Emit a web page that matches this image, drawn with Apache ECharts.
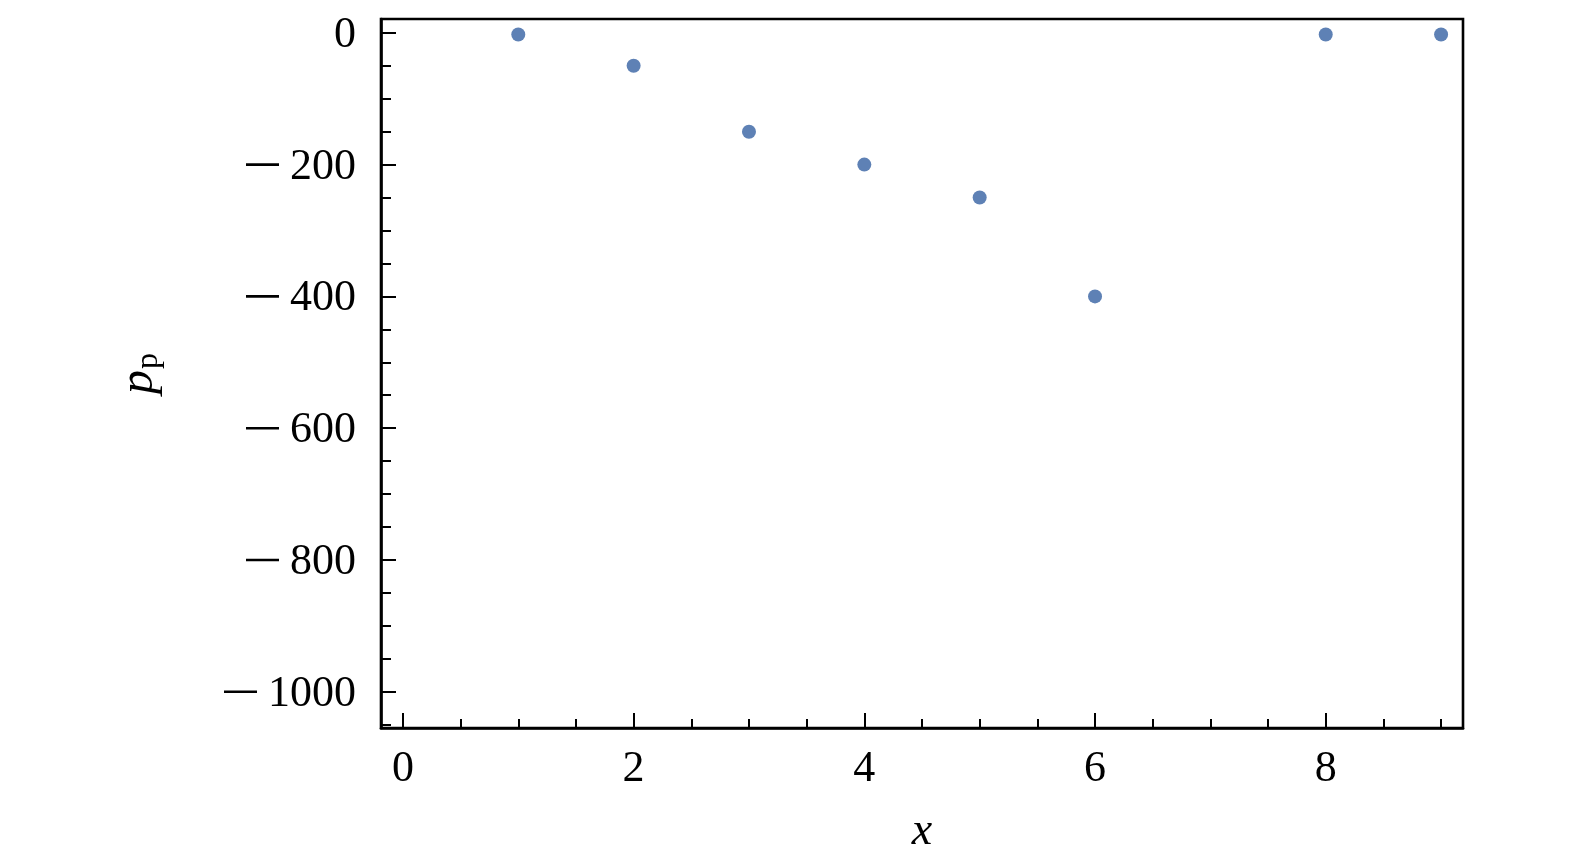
<!DOCTYPE html>
<html>
<head>
<meta charset="utf-8">
<script src="https://cdn.jsdelivr.net/npm/echarts@6/dist/echarts.min.js"></script>
<style>
html,body{margin:0;padding:0;background:#fff;}
#chart{width:1575px;height:866px;}
</style>
</head>
<body>
<div id="chart"></div>
<script>
// Data
var xValues = [1, 2, 3, 4, 5, 6, 8, 9];
var yValues = [-2.5, -50, -150, -200, -250, -400, -2.5, -2.5];

// Tick positions / labels
var xMajorTicks = [0, 2, 4, 6, 8];
var xMinorTicks = [0.5, 1, 1.5, 2.5, 3, 3.5, 4.5, 5, 5.5, 6.5, 7, 7.5, 8.5, 9];
var yMajorTicks = [0, -200, -400, -600, -800, -1000];
var yMinorTicks = [-50, -100, -150, -250, -300, -350, -450, -500, -550, -650, -700, -750, -850, -900, -950, -1050];

var xRange = [-0.19, 9.19];
var yRange = [-1055, 21];

var FONT = '"Liberation Serif", "DejaVu Serif", serif';
var LW = 2.6;

// minus sign drawn as a thin bar (real text kept: the digits; the minus is a styled text fragment)
function fmtY(v) {
  return v < 0 ? '{m|\u2212}{g| }{n|' + Math.abs(v) + '}' : '{n|' + v + '}';
}
function fmtX(v) { return String(v); }

var points = xValues.map(function (x, i) { return [x, yValues[i]]; });

var chart = echarts.init(document.getElementById('chart'), null, {renderer: 'canvas'});
chart.setOption({
  animation: false,
  backgroundColor: '#fff',
  grid: {
    left: 381, right: 112, top: 19, bottom: 138,
    show: true, borderColor: '#000', borderWidth: LW, backgroundColor: 'transparent'
  },
  xAxis: [
    {
      type: 'value', min: xRange[0], max: xRange[1],
      position: 'bottom',
      axisLine: {show: true, onZero: false, lineStyle: {color: '#000', width: LW}},
      axisTick: {show: true, inside: true, length: 15, customValues: xMajorTicks, lineStyle: {color: '#000', width: 2}},
      axisLabel: {show: true, customValues: xMajorTicks, formatter: fmtX, margin: 19,
        fontFamily: FONT, fontSize: 44, color: '#000'},
      splitLine: {show: false},
      name: 'x', nameLocation: 'middle', nameGap: 81,
      nameTextStyle: {fontFamily: FONT, fontStyle: 'italic', fontSize: 46, color: '#000'}
    },
    {
      type: 'value', min: xRange[0], max: xRange[1],
      position: 'bottom',
      axisLine: {show: false, onZero: false},
      axisTick: {show: true, inside: true, length: 9, customValues: xMinorTicks, lineStyle: {color: '#000', width: 2}},
      axisLabel: {show: false},
      splitLine: {show: false}
    }
  ],
  yAxis: [
    {
      type: 'value', min: yRange[0], max: yRange[1],
      position: 'left',
      axisLine: {show: true, onZero: false, lineStyle: {color: '#000', width: LW}},
      axisTick: {show: true, inside: true, length: 15, customValues: yMajorTicks, lineStyle: {color: '#000', width: 2}},
      axisLabel: {show: true, customValues: yMajorTicks, formatter: fmtY, margin: 25,
        color: '#000',
        rich: {
          m: {fontFamily: FONT, fontSize: 2, color: 'rgba(0,0,0,0)', width: 33, height: 2.6, lineHeight: 2.6,
              backgroundColor: '#000', verticalAlign: 'middle', align: 'left'},
          g: {fontFamily: FONT, fontSize: 2, width: 11, height: 2, lineHeight: 2, verticalAlign: 'middle'},
          n: {fontFamily: FONT, fontSize: 44, color: '#000', verticalAlign: 'middle', padding: [5, 0, 0, 0]}
        }},
      splitLine: {show: false},
      name: '{i|p}{s|p}', nameLocation: 'middle', nameGap: 202, nameRotate: 90,
      nameTextStyle: {
        color: '#000',
        rich: {
          i: {fontFamily: FONT, fontStyle: 'italic', fontSize: 48, color: '#000', lineHeight: 64, verticalAlign: 'top', padding: [0,0,0,0]},
          s: {fontFamily: FONT, fontSize: 32, color: '#000', lineHeight: 64, verticalAlign: 'top', padding: [18,0,0,1]}
        }
      }
    },
    {
      type: 'value', min: yRange[0], max: yRange[1],
      position: 'left',
      axisLine: {show: false, onZero: false},
      axisTick: {show: true, inside: true, length: 10, customValues: yMinorTicks, lineStyle: {color: '#000', width: 2}},
      axisLabel: {show: false},
      splitLine: {show: false}
    }
  ],
  series: [{
    type: 'scatter',
    xAxisIndex: 0, yAxisIndex: 0,
    data: points,
    symbol: 'circle',
    symbolSize: 14,
    itemStyle: {color: '#5E81B5', opacity: 1},
    clip: false
  }]
});
</script>
</body>
</html>
